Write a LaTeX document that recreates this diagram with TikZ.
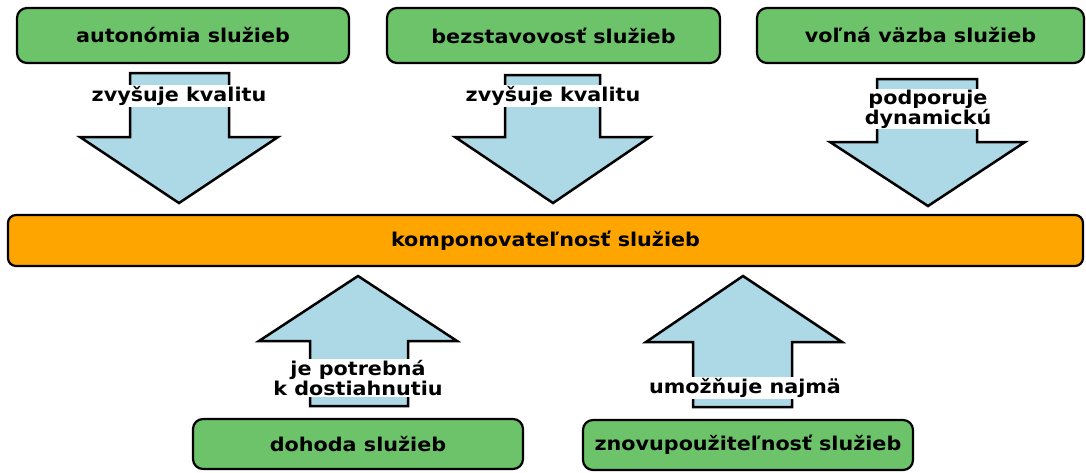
\documentclass[tikz,border=0pt]{standalone}
\usepackage{fontspec}
\setmainfont[FakeStretch=1.09]{DejaVu Sans}
\definecolor{boxgreen}{HTML}{6CC36A}
\definecolor{barorange}{HTML}{FFA500}
\definecolor{arrowblue}{HTML}{ADD8E6}
\begin{document}
\begin{tikzpicture}[x=1pt,y=-1pt,
  box/.style={draw=black,line width=2.2pt,rounded corners=10pt,fill=boxgreen,
    inner sep=0pt,font=\fontsize{19}{22}\selectfont\bfseries},
  bar/.style={draw=black,line width=2.2pt,rounded corners=8pt,fill=barorange,
    inner sep=0pt,font=\fontsize{19}{22}\selectfont\bfseries},
  blockarrow/.style={draw=black,line width=2.5pt,fill=arrowblue,line join=miter},
  lbl/.style={fill=white,inner sep=1pt,align=center,
    font=\fontsize{19}{20}\selectfont\bfseries}]
\useasboundingbox (0,0) rectangle (1086,472);
\fill[white] (0,0) rectangle (1086,472);
% boxes
\node[box,minimum width=332pt,minimum height=55pt] (aut) at (183,35.5) {autonómia služieb};
\node[box,minimum width=333pt,minimum height=55pt] (bez) at (553.5,35.5) {bezstavovosť služieb};
\node[box,minimum width=327pt,minimum height=55pt] (vol) at (920.5,35.5) {voľná väzba služieb};
\node[bar,minimum width=1075pt,minimum height=51pt] (komp) at (545.5,240.5) {komponovateľnosť služieb};
\node[box,minimum width=330pt,minimum height=50pt] (doh) at (358,444) {dohoda služieb};
\node[box,minimum width=330pt,minimum height=50pt] (zno) at (748,445) {znovupoužiteľnosť služieb};
% block arrows
\draw[blockarrow] (130,73) -- (229,73) -- (229,137) -- (278,137) -- (179,203) -- (80,137) -- (130,137) -- cycle;
\draw[blockarrow] (505,75) -- (600,75) -- (600,137) -- (650,137) -- (553,203) -- (455,137) -- (505,137) -- cycle;
\draw[blockarrow] (877,79) -- (977,79) -- (977,142) -- (1025,142) -- (928,206) -- (830,142) -- (877,142) -- cycle;
\draw[blockarrow] (310,406) -- (408,406) -- (408,341) -- (457,341) -- (358,276) -- (259,341) -- (310,341) -- cycle;
\draw[blockarrow] (693,407) -- (792,407) -- (792,342) -- (842,342) -- (743,276) -- (646,342) -- (693,342) -- cycle;
% labels
\node[lbl] (l1) at (179,96) {zvyšuje kvalitu};
\node[lbl] (l2) at (553,96) {zvyšuje kvalitu};
\node[lbl] (l3) at (928,109) {podporuje\\dynamickú};
\node[lbl] (l4) at (358,378) {je potrebná\\k dostiahnutiu};
\node[lbl] (l5) at (745,388) {umožňuje najmä};
\end{tikzpicture}
\end{document}
